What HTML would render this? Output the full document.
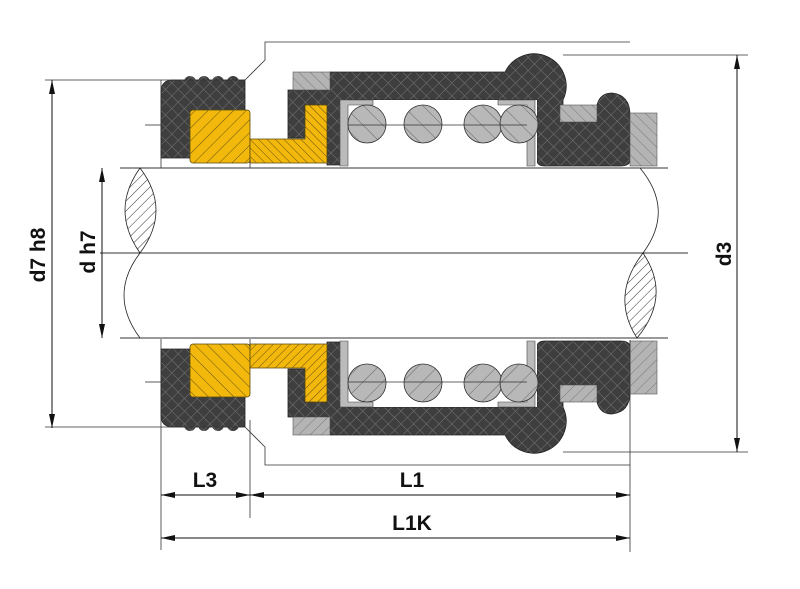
<!DOCTYPE html>
<html><head><meta charset="utf-8"><style>
html,body{margin:0;padding:0;background:#fff;}
svg{display:block;}
text{font-family:"Liberation Sans",sans-serif;font-weight:bold;fill:#111;}
</style></head><body>
<svg width="800" height="589" viewBox="0 0 800 589" xmlns="http://www.w3.org/2000/svg">
<defs>
<pattern id="cross" width="9" height="9" patternUnits="userSpaceOnUse" patternTransform="rotate(45)">
<rect width="9" height="9" fill="#3e3e3e"/>
<path d="M0,0H9M0,0V9" stroke="#767676" stroke-width="1"/>
</pattern>
<pattern id="yel" width="9" height="9" patternUnits="userSpaceOnUse" patternTransform="rotate(45)">
<rect width="9" height="9" fill="#f2b80c"/>
<path d="M0,0V9" stroke="#6b5210" stroke-width="1"/>
</pattern>
<pattern id="yel2" width="6" height="6" patternUnits="userSpaceOnUse" patternTransform="rotate(-45)">
<rect width="6" height="6" fill="#f2b80c"/>
<path d="M0,0V6" stroke="#6b5210" stroke-width="1"/>
</pattern>
<pattern id="gray" width="8" height="8" patternUnits="userSpaceOnUse" patternTransform="rotate(-45)">
<rect width="8" height="8" fill="#b4b4b4"/>
<path d="M0,0V8" stroke="#777" stroke-width="1"/>
</pattern>
<pattern id="sp" width="14" height="14" patternUnits="userSpaceOnUse" patternTransform="rotate(-45)">
<rect width="14" height="14" fill="#b8b8b8"/>
<path d="M0,0V14" stroke="#666" stroke-width="1"/>
</pattern>
<pattern id="wh" width="7" height="7" patternUnits="userSpaceOnUse" patternTransform="rotate(45)">
<rect width="7" height="7" fill="#fff"/>
<path d="M0,0V7" stroke="#333" stroke-width="1"/>
</pattern>
<marker id="ar" markerWidth="14" markerHeight="6" refX="14" refY="3" orient="auto" markerUnits="userSpaceOnUse">
<path d="M0,0L14,3L0,6Z" fill="#111"/>
</marker>
<g id="half">
<path d="M161,158 L161,92 Q161,80 173,80 L245,80 L245,158 Z" fill="url(#cross)" stroke="#222" stroke-width="0.8"/>
<circle cx="190" cy="82" r="6" fill="url(#cross)"/>
<circle cx="204" cy="82" r="6" fill="url(#cross)"/>
<circle cx="218" cy="82" r="6" fill="url(#cross)"/>
<circle cx="233" cy="82" r="6" fill="url(#cross)"/>
<rect x="184" y="70" width="56" height="6" fill="#fff"/>
<rect x="190" y="110" width="60" height="53" rx="3" fill="url(#yel)" stroke="#5a4a10" stroke-width="0.8"/>
<path d="M288,138 L288,90 L330,90 L330,72 L505,72 A30,30 0 1 1 563,100 L563,122 L597,122 L597,105 Q600,93 612,93 Q630,95 630,115 L630,160 Q630,166 620,166 L545,166 Q537,166 537,160 L537,100 L348,100 L348,165 L327,165 L327,105 L305,105 L305,138 Z" fill="url(#cross)" stroke="#222" stroke-width="0.8"/>
<rect x="293" y="72" width="37" height="18" fill="url(#gray)" stroke="#555" stroke-width="0.6"/>
<rect x="560" y="105" width="37" height="17" fill="url(#gray)" stroke="#555" stroke-width="0.6"/>
<path d="M250,139 L305,139 L305,105 L327,105 L327,163 L250,163 Z" fill="url(#yel2)" stroke="#5a4a10" stroke-width="0.8"/>
<rect x="340" y="100" width="197" height="66" fill="#fff"/>
<path d="M340,166 V100 H373 V105 H348 V166 Z" fill="#bbb" stroke="#444" stroke-width="0.6"/>
<path d="M535,166 V100 H498 V105 H527 V166 Z" fill="#bbb" stroke="#444" stroke-width="0.6"/>
<circle cx="367" cy="124" r="19" fill="url(#sp)" stroke="#333" stroke-width="0.8"/>
<circle cx="423" cy="124" r="19" fill="url(#sp)" stroke="#333" stroke-width="0.8"/>
<circle cx="483" cy="124" r="19" fill="url(#sp)" stroke="#333" stroke-width="0.8"/>
<circle cx="519" cy="124" r="19" fill="url(#sp)" stroke="#333" stroke-width="0.8"/>
<line x1="348" y1="125" x2="527" y2="125" stroke="#333" stroke-width="0.8"/>
<line x1="145" y1="125" x2="161" y2="125" stroke="#333" stroke-width="0.8"/>
<rect x="630" y="113" width="27" height="53" fill="url(#gray)" stroke="#555" stroke-width="0.6"/>
<path d="M45,80 H245 L265,60 V42 H630" fill="none" stroke="#333" stroke-width="0.8"/>
<path d="M563,55 H748" fill="none" stroke="#333" stroke-width="0.8"/>
<line x1="161" y1="80" x2="161" y2="168" stroke="#333" stroke-width="0.8"/>
<line x1="250" y1="160" x2="250" y2="168" stroke="#333" stroke-width="0.8"/>
</g>
</defs>
<rect width="800" height="589" fill="#fff"/>
<line x1="120" y1="168" x2="668" y2="168" stroke="#333" stroke-width="1"/>
<line x1="120" y1="338" x2="668" y2="338" stroke="#333" stroke-width="1"/>
<line x1="100" y1="253" x2="688" y2="253" stroke="#333" stroke-width="1"/>
<path d="M140,168 Q110,210 140,253 Q172,210 140,168Z" fill="url(#wh)" stroke="#222" stroke-width="0.8"/>
<path d="M140,253 Q108,295 140,338" fill="none" stroke="#222" stroke-width="0.8"/>
<path d="M640,168 Q675,210 643,253" fill="none" stroke="#222" stroke-width="0.8"/>
<path d="M643,253 Q610,296 637,338 Q672,296 643,253Z" fill="url(#wh)" stroke="#222" stroke-width="0.8"/>
<use href="#half"/>
<use href="#half" transform="matrix(1,0,0,-1,0,507)"/>
<line x1="161" y1="427" x2="161" y2="550" stroke="#333" stroke-width="0.8"/>
<line x1="250" y1="420" x2="250" y2="518" stroke="#333" stroke-width="0.8"/>
<line x1="630" y1="340" x2="630" y2="552" stroke="#333" stroke-width="0.8"/>
<line x1="52" y1="254" x2="52" y2="80" stroke="#111" marker-end="url(#ar)"/>
<line x1="52" y1="254" x2="52" y2="428" stroke="#111" marker-end="url(#ar)"/>
<line x1="102" y1="253" x2="102" y2="168" stroke="#111" marker-end="url(#ar)"/>
<line x1="102" y1="253" x2="102" y2="338" stroke="#111" marker-end="url(#ar)"/>
<line x1="737" y1="254" x2="737" y2="55" stroke="#111" marker-end="url(#ar)"/>
<line x1="737" y1="254" x2="737" y2="452" stroke="#111" marker-end="url(#ar)"/>
<line x1="205" y1="495" x2="161" y2="495" stroke="#111" marker-end="url(#ar)"/>
<line x1="205" y1="495" x2="250" y2="495" stroke="#111" marker-end="url(#ar)"/>
<line x1="440" y1="495" x2="250" y2="495" stroke="#111" marker-end="url(#ar)"/>
<line x1="440" y1="495" x2="630" y2="495" stroke="#111" marker-end="url(#ar)"/>
<line x1="395" y1="538" x2="161" y2="538" stroke="#111" marker-end="url(#ar)"/>
<line x1="395" y1="538" x2="630" y2="538" stroke="#111" marker-end="url(#ar)"/>
<text x="205" y="487" font-size="21" text-anchor="middle">L3</text>
<text x="412" y="487" font-size="21" text-anchor="middle">L1</text>
<text x="412" y="530" font-size="21" text-anchor="middle">L1K</text>
<text transform="translate(45,255) rotate(-90)" font-size="21" text-anchor="middle">d7 h8</text>
<text transform="translate(95,252) rotate(-90)" font-size="21" text-anchor="middle">d h7</text>
<text transform="translate(731,254) rotate(-90)" font-size="21" text-anchor="middle">d3</text>
</svg>
</body></html>
